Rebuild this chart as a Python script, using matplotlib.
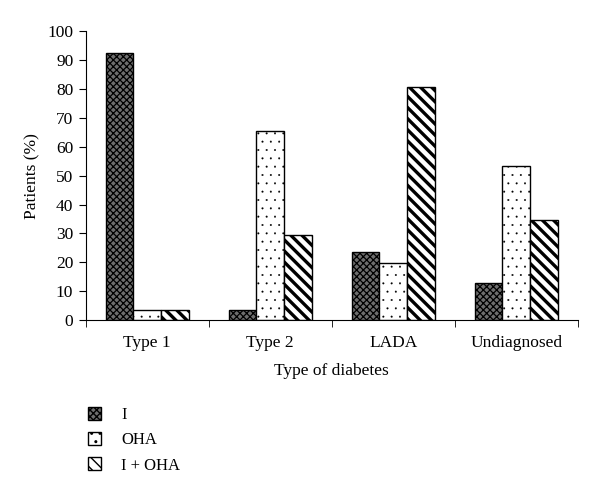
import numpy as np
import matplotlib
matplotlib.use("Agg")
import matplotlib.pyplot as plt
from matplotlib.patches import Patch

plt.rcParams['font.family'] = ['Liberation Serif', 'DejaVu Serif']
plt.rcParams['hatch.linewidth'] = 1.0

categories = ['Type 1', 'Type 2', 'LADA', 'Undiagnosed']
series = ['I', 'OHA', 'I + OHA']
val_i = [92.3, 3.5, 23.5, 12.7]
val_oha = [3.5, 65.4, 19.8, 53.3]
val_both = [3.5, 29.5, 80.6, 34.6]

styles = [
    dict(facecolor='#6e6e6e', hatch='xxxxx'),
    dict(facecolor='white', hatch='..'),
    dict(facecolor='white', hatch='\\\\\\'),
]
hatch_lw = [0.9, 0.2, 2.4]


def set_hlw(artist, lw):
    try:
        artist.set_hatch_linewidth(lw)
    except AttributeError:
        pass


fig = plt.figure(figsize=(6, 4.94), dpi=100)
ax = fig.add_axes([0.143, 0.352, 0.82, 0.585])

x = np.arange(len(categories))
w = 0.225
for k, vals in enumerate([val_i, val_oha, val_both]):
    bars = ax.bar(x + (k - 1) * w, vals, w, edgecolor='black', linewidth=1.0,
                  **styles[k])
    for b in bars:
        set_hlw(b, hatch_lw[k])

ax.set_xlim(-0.5, len(categories) - 0.5)
ax.set_ylim(0, 100)
ax.set_yticks(range(0, 101, 10))
ax.set_xticks(x)
ax.set_xticklabels(categories, fontsize=12.5)
ax.set_xticks(np.arange(-0.5, len(categories), 1), minor=True)
ax.tick_params(axis='x', which='major', length=0, pad=11)
ax.tick_params(axis='x', which='minor', length=5, direction='out')
ax.tick_params(axis='y', labelsize=12.5, length=5, direction='out', pad=4)
for s in ['top', 'right']:
    ax.spines[s].set_visible(False)
ax.set_xlabel('Type of diabetes', fontsize=12.5, labelpad=8)
ax.set_ylabel('Patients (%)', fontsize=12.5, labelpad=5)

handles = []
for k in range(3):
    h = Patch(edgecolor='black', linewidth=1.0, **styles[k])
    set_hlw(h, hatch_lw[k] * 0.7)
    handles.append(h)
fig.legend(handles, series, loc='upper left', bbox_to_anchor=(0.135, 0.19),
           frameon=False, fontsize=12, handlelength=0.8, handleheight=0.8,
           labelspacing=0.55, borderaxespad=0, handletextpad=1.2)

fig.savefig('out.png', dpi=100)
